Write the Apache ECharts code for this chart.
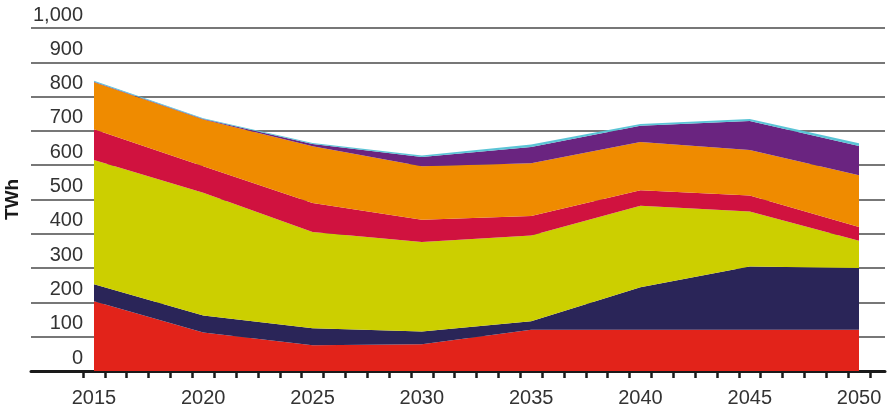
<!DOCTYPE html>
<html>
<head>
<meta charset="utf-8">
<script src="https://cdn.jsdelivr.net/npm/echarts@6/dist/echarts.min.js"></script>
<style>
html,body{margin:0;padding:0;background:#fff;}
#chart{width:890px;height:411px;}
</style>
</head>
<body>
<div id="chart"></div>
<script>
var years = ['2015', '2020', '2025', '2030', '2035', '2040', '2045', '2050'];
var tickYears = [];
for (var y = 2015; y <= 2050; y++) tickYears.push(String(y));
var yAxisTitle = 'TWh';

var red     = [203, 112, 75, 78, 120, 120, 120, 120];
var navy    = [50, 50, 50, 37, 25, 124, 185, 180];
var yellow  = [362, 358, 280, 261, 250, 238, 160, 80];
var crimson = [90, 77, 85, 65, 57, 45, 47, 40];
var orange  = [137, 136, 165, 156, 154, 141, 132, 151];
var purple  = [1, 2, 7, 27, 47, 47, 85, 85];
var cyan    = [3, 2, 3, 4, 7, 5, 6, 8];

var seriesDefs = [
  {name: 'red', values: red, color: '#e2231a'},
  {name: 'navy', values: navy, color: '#2a2558'},
  {name: 'yellow', values: yellow, color: '#cccf00'},
  {name: 'crimson', values: crimson, color: '#d0123f'},
  {name: 'orange', values: orange, color: '#ef8b00'},
  {name: 'purple', values: purple, color: '#6a2480'},
  {name: 'cyan', values: cyan, color: '#5bc4d6'}
];

var FONT = 'Liberation Sans, Arial, sans-serif';
var chart = echarts.init(document.getElementById('chart'), null, {renderer: 'canvas'});

var series = seriesDefs.map(function (s) {
  return {
    name: s.name,
    type: 'line',
    stack: 'total',
    xAxisIndex: 2,
    yAxisIndex: 2,
    symbol: 'none',
    smooth: false,
    lineStyle: {width: 0},
    areaStyle: {color: s.color, opacity: 1},
    itemStyle: {color: s.color},
    data: s.values
  };
});

chart.setOption({
  animation: false,
  backgroundColor: '#fff',
  grid: [
    {left: 31, right: 5, top: 28, bottom: 40, outerBoundsMode: 'none', containLabel: false},
    {left: 83, right: 20, top: 28, bottom: 40, outerBoundsMode: 'none', containLabel: false},
    {left: 94, right: 31, top: 28, bottom: 40, outerBoundsMode: 'none', containLabel: false}
  ],
  xAxis: [
    {gridIndex: 0, type: 'value', min: 0, max: 1,
     axisLine: {show: true, onZero: false, lineStyle: {color: '#1a1a1a', width: 3}},
     axisTick: {show: false}, axisLabel: {show: false}, splitLine: {show: false}},
    {gridIndex: 1, type: 'category', data: tickYears, boundaryGap: true, position: 'bottom',
     axisLine: {show: false},
     axisTick: {show: true, interval: 0, length: 7, lineStyle: {color: '#1a1a1a', width: 2.5}},
     axisLabel: {show: true, interval: function (idx, val) { return (Number(val) - 2015) % 5 === 0; },
       margin: 17, color: '#333', fontSize: 20, fontFamily: FONT},
     splitLine: {show: false}},
    {gridIndex: 2, type: 'category', data: years, boundaryGap: false, show: false}
  ],
  yAxis: [
    {gridIndex: 0, type: 'value', min: 0, max: 1000, interval: 100,
     axisLine: {show: false}, axisTick: {show: false}, axisLabel: {show: false},
     splitLine: {show: true, lineStyle: {color: '#4a4a4a', width: 1.5}}},
    {gridIndex: 1, type: 'value', min: 0, max: 1000, interval: 100,
     name: yAxisTitle, nameLocation: 'middle', nameGap: 58, nameRotate: 90,
     nameTextStyle: {color: '#1a1a1a', fontSize: 19, fontWeight: 'bold', fontFamily: FONT},
     axisLine: {show: false}, axisTick: {show: false}, splitLine: {show: false},
     axisLabel: {show: true, margin: 0, color: '#333', fontSize: 20, fontFamily: FONT,
       verticalAlign: 'bottom', lineHeight: 26,
       formatter: function (v) { return v.toLocaleString('en-US'); }}},
    {gridIndex: 2, type: 'value', min: 0, max: 1000, show: false}
  ],
  series: series
});
</script>
</body>
</html>
